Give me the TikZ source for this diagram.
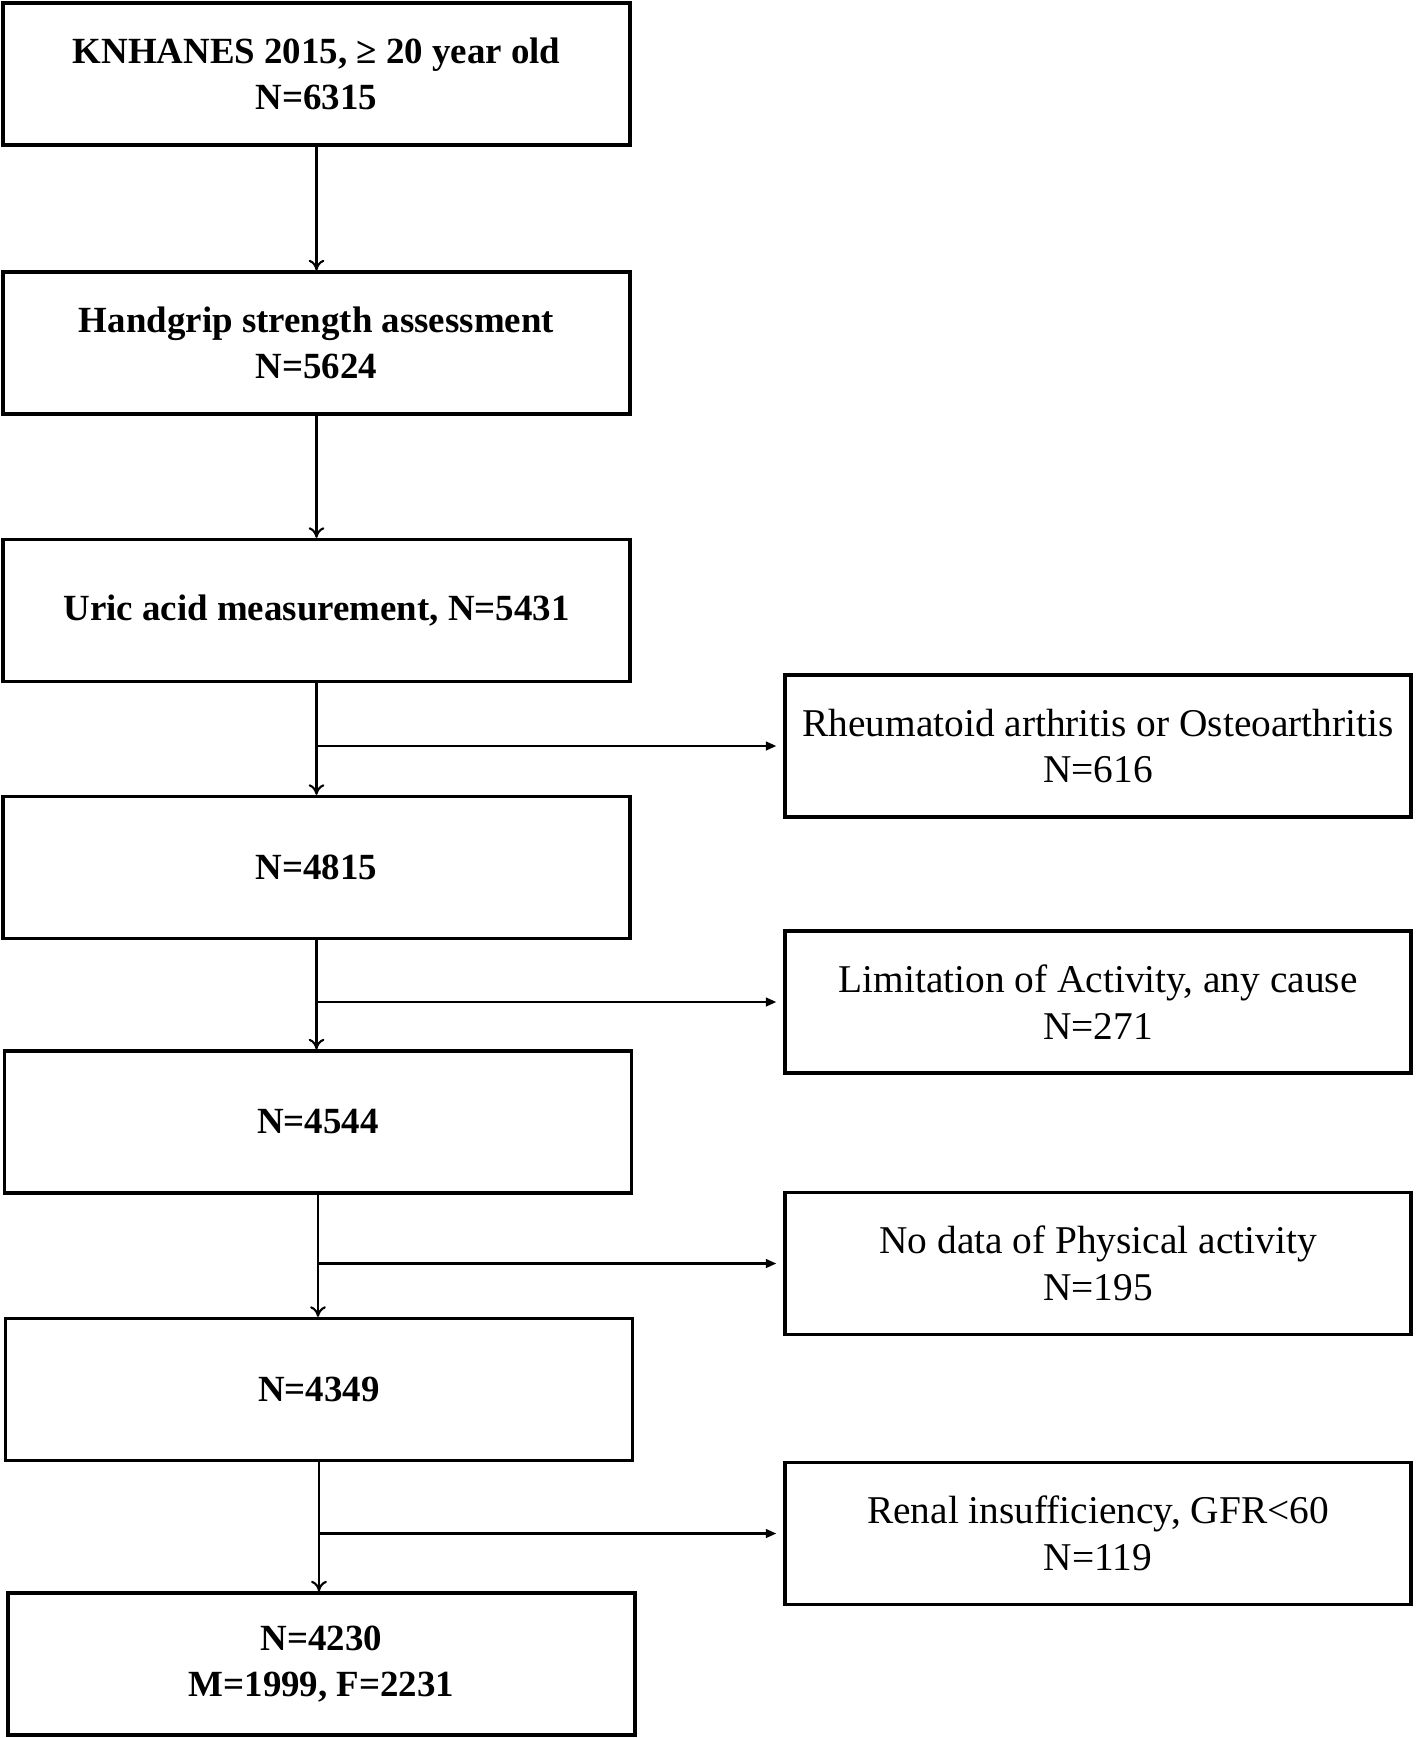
\documentclass[tikz,border=0pt]{standalone}
\usepackage{fontspec}
\setmainfont{Liberation Serif}
\usetikzlibrary{arrows.meta}
\begin{document}
\begin{tikzpicture}[
  main/.style={draw, line width=1.9pt, minimum width=12.54cm, minimum height=2.84cm, align=center, font=\fontsize{21}{26.5}\selectfont\bfseries},
  excl/.style={draw, line width=1.9pt, minimum width=12.52cm, minimum height=2.84cm, align=center, font=\fontsize{22.4}{26.5}\selectfont},
  down/.style={line width=1.2pt, -{To[length=6pt,width=9pt]}},
  side/.style={line width=1.2pt, -{Triangle[length=6pt,width=5pt]}}]
\useasboundingbox (0,0) rectangle (28.36,-34.76);
\node[main] (1) at (6.33,-1.48) {KNHANES 2015, ≥ 20 year old\\N=6315};
\node[main] (2) at (6.33,-6.86) {Handgrip strength assessment\\N=5624};
\node[main] (3) at (6.33,-12.21) {Uric acid measurement, N=5431};
\node[main] (4) at (6.33,-17.35) {N=4815};
\node[main] (5) at (6.36,-22.44) {N=4544};
\node[main] (6) at (6.38,-27.79) {N=4349};
\node[main] (7) at (6.43,-33.28) {N=4230\\M=1999, F=2231};
\node[excl] (8) at (21.96,-14.92) {Rheumatoid arthritis or Osteoarthritis\\N=616};
\node[excl] (9) at (21.96,-20.04) {Limitation of Activity, any cause\\N=271};
\node[excl] (10) at (21.96,-25.27) {No data of Physical activity\\N=195};
\node[excl] (11) at (21.96,-30.67) {Renal insufficiency, GFR<60\\N=119};
\path[draw,down] (1) -- (2);
\path[draw,down] (2) -- (3);
\path[draw,down] (3) -- (3 |- 4.north);
\path[draw,down] (4) -- (4 |- 5.north);
\path[draw,down] (5) -- (5 |- 6.north);
\path[draw,down] (6) -- (6 |- 7.north);

\coordinate (j1) at (3 |- 8.west);
\coordinate (j2) at (4 |- 9.west);
\coordinate (j3) at (5 |- 10.west);
\coordinate (j4) at (6 |- 11.west);
\path[draw,side] (j1) -- ([xshift=-4pt]8.west);
\path[draw,side] (j2) -- ([xshift=-4pt]9.west);
\path[draw,side] (j3) -- ([xshift=-4pt]10.west);
\path[draw,side] (j4) -- ([xshift=-4pt]11.west);
\end{tikzpicture}
\end{document}
